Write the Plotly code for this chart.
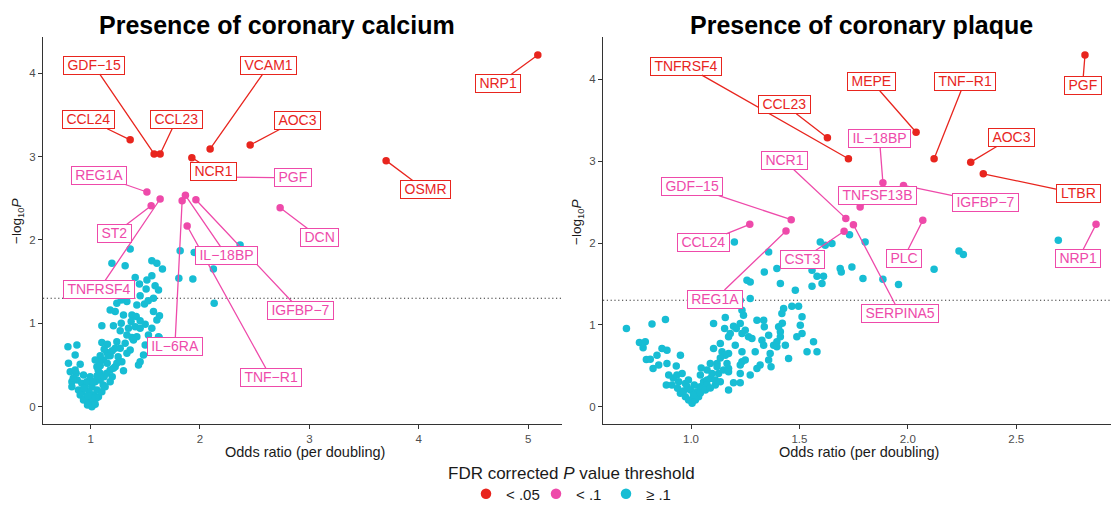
import plotly.graph_objects as go

# ---------------- data: Presence of coronary calcium ----------------
calc_genes = ["CCL24", "GDF−15", "CCL23", "NCR1", "VCAM1", "AOC3", "OSMR", "NRP1",
              "REG1A", "ST2", "TNFRSF4", "IL−6RA", "IL−18BP", "IGFBP−7", "TNF−R1", "PGF", "DCN"]
calc_or = [1.362, 1.581, 1.636, 1.926, 2.093, 2.459, 3.702, 5.089,
           1.515, 1.554, 1.636, 1.837, 1.867, 1.963, 1.883, 2.200, 2.733]
calc_logp = [3.20, 3.03, 3.03, 2.986, 3.09, 3.138, 2.95, 4.217,
             2.574, 2.41, 2.49, 2.47, 2.535, 2.482, 2.167, 2.752, 2.386]
calc_fdr = ["< .05"] * 8 + ["< .1"] * 9

calc_bg_or = [0.793, 0.875, 0.859, 0.798, 0.905, 0.814, 0.868, 0.829, 0.878, 0.935,
              0.829, 0.889, 0.923, 0.966, 0.996, 0.978, 1.027, 1.058, 1.042, 1.088,
              1.115, 1.149, 1.088, 1.179, 1.225, 1.179, 1.058, 1.118, 1.152, 0.920,
              0.951, 0.905, 0.935, 0.972, 1.012, 1.027, 1.072, 1.103, 1.133, 1.012,
              0.987, 0.966, 0.996, 1.103, 1.209, 1.271, 1.346, 1.408, 1.453, 1.560,
              1.332, 1.378, 1.423, 1.529, 1.627, 1.103, 1.154, 1.240, 1.316, 1.392,
              1.225, 1.271, 1.332, 1.149, 1.088, 1.179, 1.484, 1.453, 1.438, 1.286,
              1.240, 1.081, 1.209, 1.301, 1.362, 1.195, 1.316, 1.560, 1.606, 1.657,
              1.408, 1.447, 1.515, 1.560, 1.590, 1.508, 1.575, 1.240, 1.332, 1.423,
              1.493, 1.575, 1.179, 1.225, 1.301, 1.378, 1.417, 1.453, 1.630, 1.606,
              1.280, 1.499, 1.621, 1.353, 1.280, 1.453, 1.527, 1.252, 1.362, 1.499,
              1.371, 1.124, 1.042, 1.069, 1.124, 1.198, 1.051, 1.042, 1.015, 0.978,
              0.941, 0.859, 0.841, 1.024, 1.060, 1.088, 1.161, 1.198,
              1.819, 1.947, 2.367, 1.807, 1.935, 2.123, 2.130, 1.621]
calc_bg_logp = [0.72, 0.74, 0.62, 0.52, 0.51, 0.42, 0.40, 0.30, 0.32, 0.38,
                0.24, 0.20, 0.18, 0.12, 0.04, 0.07, 0.14, 0.20, 0.30, 0.32,
                0.26, 0.40, 0.40, 0.44, 0.48, 0.30, 0.48, 0.56, 0.52, 0.28,
                0.24, 0.14, 0.08, 0.02, 0.00, 0.08, 0.12, 0.18, 0.24, 0.24,
                0.18, 0.30, 0.36, 0.97, 0.97, 0.91, 0.94, 0.96, 0.94, 0.94,
                0.86, 0.83, 0.84, 0.86, 0.83, 0.77, 0.75, 0.78, 0.76, 0.80,
                0.70, 0.70, 0.64, 0.65, 0.61, 0.61, 0.62, 0.54, 0.50, 0.54,
                0.52, 0.54, 0.46, 0.43, 1.89, 1.72, 1.69, 1.75, 1.72, 1.65,
                1.55, 1.47, 1.52, 1.57, 1.45, 1.41, 1.30, 1.24, 1.26, 1.22,
                1.23, 1.14, 1.16, 1.14, 1.10, 1.10, 1.08, 1.03, 1.09, 1.04,
                1.00, 0.99, 1.40, 1.38, 1.28, 1.33, 1.27, 0.60, 0.68, 0.74,
                1.02, 0.69, 0.56, 0.44, 0.36, 0.36, 0.10, 0.03, 0.10, 0.13,
                0.22, 0.44, 0.34, 0.30, 0.37, 0.49, 0.61, 0.67,
                1.87, 1.85, 1.94, 1.54, 1.53, 1.65, 1.24, 0.84]

# ---------------- data: Presence of coronary plaque ----------------
plq_genes = ["TNFRSF4", "CCL23", "MEPE", "TNF−R1", "AOC3", "LTBR", "PGF",
             "GDF−15", "NCR1", "SERPINA5", "CCL24", "REG1A", "CST3", "IL−18BP",
             "IGFBP−7", "TNFSF13B", "PLC", "NRP1"]
plq_or = [1.726, 1.629, 2.038, 2.121, 2.290, 2.348, 2.817,
          1.462, 1.714, 1.749, 1.271, 1.438, 1.706, 1.885,
          1.980, 1.780, 2.069, 2.868]
plq_logp = [3.03, 3.285, 3.354, 3.03, 2.988, 2.846, 4.298,
            2.285, 2.301, 2.224, 2.228, 2.146, 2.143, 2.737,
            2.704, 2.439, 2.277, 2.228]
plq_fdr = ["< .05"] * 7 + ["< .1"] * 11

plq_bg_or = [0.702, 0.820, 0.882, 0.762, 0.789, 0.779, 0.794, 0.812, 0.843, 0.866,
             0.889, 0.825, 0.851, 0.889, 0.897, 0.886, 0.912, 0.935, 0.932, 0.951,
             0.943, 0.974, 0.938, 0.951, 0.974, 0.989, 1.005, 1.020, 1.035, 1.028,
             1.043, 1.058, 1.074, 1.089, 1.112, 1.112, 1.135, 1.127, 1.150, 1.173,
             1.166, 1.173, 1.143, 1.135, 1.173, 1.181, 1.158, 1.196, 1.209, 1.227,
             1.235, 1.250, 1.265, 1.281, 1.242, 1.235, 1.227, 1.273, 1.258, 1.273,
             1.304, 1.335, 1.338, 1.327, 1.296, 1.235, 1.235, 1.250, 1.227, 1.227,
             1.273, 1.227, 1.304, 1.319, 1.335, 1.358, 1.365, 1.358, 1.369, 1.381,
             1.396, 1.396, 1.412, 1.412, 1.404, 1.421, 1.419, 1.427, 1.465, 1.496,
             1.481, 1.450, 1.488, 1.512, 1.512, 1.535, 1.565, 1.581, 1.412, 1.396,
             1.338, 1.358, 1.200, 1.558, 1.558, 1.581, 1.604, 1.611, 1.596, 1.619,
             1.650, 1.688, 1.693, 1.742, 1.731, 1.803, 1.793, 1.885, 1.957, 2.121,
             2.236, 2.256, 2.694, 1.104, 1.155, 1.158, 1.104, 1.120, 1.173, 1.173,
             1.196, 1.074, 1.043, 1.074, 1.097, 1.120, 1.089, 0.959, 0.982, 0.997,
             1.011, 1.043, 1.066, 1.089, 0.965, 0.918, 0.988, 1.015, 1.047, 1.135,
             1.204, 1.504, 1.435]
plq_bg_logp = [0.956, 1.010, 1.066, 0.785, 0.793, 0.720, 0.578, 0.580, 0.630, 0.712,
               0.690, 0.468, 0.509, 0.529, 0.387, 0.265, 0.265, 0.387, 0.496, 0.630,
               0.305, 0.285, 0.224, 0.163, 0.122, 0.082, 0.041, 0.082, 0.122, 0.183,
               0.244, 0.305, 0.326, 0.346, 0.265, 0.326, 0.305, 0.407, 0.448, 0.468,
               0.529, 0.651, 0.671, 0.773, 0.854, 0.895, 1.090, 0.984, 0.956, 1.017,
               0.895, 0.935, 0.854, 0.834, 1.118, 1.179, 1.301, 1.322, 1.545, 1.524,
               1.057, 1.057, 0.976, 0.813, 0.671, 0.671, 0.549, 0.570, 0.509, 0.407,
               0.387, 0.293, 0.468, 0.509, 0.752, 0.874, 0.651, 0.570, 0.488, 0.752,
               0.793, 0.732, 0.854, 0.915, 0.976, 1.020, 1.139, 1.200, 1.228, 1.228,
               1.423, 0.590, 0.854, 0.895, 1.098, 0.671, 0.793, 0.671, 1.505, 1.688,
               1.646, 1.890, 2.012, 1.667, 1.472, 1.594, 1.505, 1.594, 2.012, 1.972,
               1.993, 1.688, 1.646, 1.707, 2.102, 2.012, 1.566, 1.557, 1.493, 1.679,
               1.902, 1.859, 2.033, 1.017, 0.956, 0.630, 0.712, 0.529, 0.427, 0.204,
               0.293, 0.265, 0.387, 0.448, 0.407, 0.488, 0.529, 0.407, 0.244, 0.204,
               0.143, 0.167, 0.204, 0.228, 0.191, 0.350, 0.326, 0.265, 0.472, 0.594,
               0.752, 0.996, 0.752]

legend_names = ["< .05", "< .1", "≥ .1"]

# ---------------- label placement (layout, in data units) ----------------
calc_label_pos = {
    "PGF": (2.850, 2.745), "IGFBP−7": (2.919, 1.150), "TNF−R1": (2.649, 0.350),
    "GDF−15": (1.028, 4.095), "VCAM1": (2.631, 4.095), "CCL24": (0.981, 3.44),
    "CCL23": (1.785, 3.44), "AOC3": (2.888, 3.434), "NRP1": (4.728, 3.872),
    "REG1A": (1.080, 2.772), "NCR1": (2.127, 2.816), "OSMR": (4.058, 2.602),
    "DCN": (3.092, 2.029), "ST2": (1.218, 2.074), "IL−18BP": (2.246, 1.809),
    "TNFRSF4": (1.077, 1.403), "IL−6RA": (1.771, 0.727),
}
plq_label_pos = {
    "TNFRSF4": (0.977, 4.161), "IGFBP−7": (2.359, 2.494), "CCL23": (1.432, 3.689),
    "MEPE": (1.834, 3.970), "TNF−R1": (2.262, 3.970), "AOC3": (2.479, 3.289),
    "LTBR": (2.785, 2.602), "PGF": (2.806, 3.929), "GDF−15": (1.003, 2.689),
    "NCR1": (1.429, 3.009), "SERPINA5": (1.965, 1.133), "CCL24": (1.058, 2.002),
    "REG1A": (1.111, 1.316), "CST3": (1.513, 1.799), "IL−18BP": (1.869, 3.279),
    "TNFSF13B": (1.861, 2.584), "PLC": (1.980, 1.810), "NRP1": (2.786, 1.805),
}

RED = "#E8251E"
PINK = "#EE4AAA"
CYAN = "#17BDD4"
COLORS = {"< .05": RED, "< .1": PINK, "≥ .1": CYAN}
FONT = "Liberation Sans, Arial, Helvetica, sans-serif"
W, H = 1111, 506

CHAR_W = {'A': 667, 'B': 667, 'C': 722, 'D': 722, 'E': 667, 'F': 611, 'G': 778,
          'H': 722, 'I': 278, 'K': 667, 'L': 556, 'M': 833, 'N': 722, 'O': 778,
          'P': 667, 'R': 722, 'S': 667, 'T': 611, 'V': 667, '−': 584, '-': 333}


def text_w(s, size):
    return sum(CHAR_W.get(c, 556) for c in s) / 1000 * size


def px(xp):
    return xp / W


def py(yp):
    return 1 - yp / H


fig = go.Figure()

# background (not significant) points
fig.add_trace(go.Scatter(x=calc_bg_or, y=calc_bg_logp, mode="markers", xaxis="x", yaxis="y",
                         marker=dict(color=CYAN, size=7.5), showlegend=False, hoverinfo="skip"))
fig.add_trace(go.Scatter(x=plq_bg_or, y=plq_bg_logp, mode="markers", xaxis="x2", yaxis="y2",
                         marker=dict(color=CYAN, size=7.5), showlegend=False, hoverinfo="skip"))

for cat in ["< .1", "< .05"]:
    xs = [o for o, f in zip(calc_or, calc_fdr) if f == cat]
    ys = [p for p, f in zip(calc_logp, calc_fdr) if f == cat]
    fig.add_trace(go.Scatter(x=xs, y=ys, mode="markers", xaxis="x", yaxis="y",
                             marker=dict(color=COLORS[cat], size=7.5), showlegend=False))
    xs = [o for o, f in zip(plq_or, plq_fdr) if f == cat]
    ys = [p for p, f in zip(plq_logp, plq_fdr) if f == cat]
    fig.add_trace(go.Scatter(x=xs, y=ys, mode="markers", xaxis="x2", yaxis="y2",
                             marker=dict(color=COLORS[cat], size=7.5), showlegend=False))

# legend entries
for name in legend_names:
    fig.add_trace(go.Scatter(x=[None], y=[None], mode="markers", name=name,
                             marker=dict(color=COLORS[name], size=10.5), showlegend=True))

annotations = []


def add_labels(genes, ors, logps, fdrs, pos, xref, yref):
    info = {g: (o, p, f) for g, o, p, f in zip(genes, ors, logps, fdrs)}
    for g, (lx, ly) in pos.items():
        o, p, f = info[g]
        col = COLORS[f]
        annotations.append(dict(
            x=o, y=p, ax=lx, ay=ly, xref=xref, yref=yref, axref=xref, ayref=yref,
            text=g, showarrow=True, arrowhead=0, arrowwidth=1.3, arrowcolor=col,
            standoff=0, startstandoff=0,
            font=dict(family=FONT, size=14, color=col),
            bgcolor="white", bordercolor=col, borderwidth=1, borderpad=1.5,
            width=text_w(g, 14) + 4, height=13.5))


add_labels(calc_genes, calc_or, calc_logp, calc_fdr, calc_label_pos, "x", "y")
add_labels(plq_genes, plq_or, plq_logp, plq_fdr, plq_label_pos, "x2", "y2")

# titles and axis titles
for txt, xc in [("<b>Presence of coronary calcium</b>", 277), ("<b>Presence of coronary plaque</b>", 861)]:
    annotations.append(dict(text=txt, x=px(xc), y=py(25), xref="paper", yref="paper",
                            showarrow=False, xanchor="center", yanchor="middle",
                            font=dict(family=FONT, size=25, color="black")))
for xc in [305, 859]:
    annotations.append(dict(text="Odds ratio (per doubling)", x=px(xc), y=py(452), xref="paper",
                            yref="paper", showarrow=False, xanchor="center", yanchor="middle",
                            font=dict(family=FONT, size=14.5, color="#1a1a1a")))
for xc in [17, 577]:
    annotations.append(dict(text="−log<sub>10</sub><i>P</i>", x=px(xc), y=py(222), xref="paper",
                            yref="paper", showarrow=False, textangle=-90, xanchor="center",
                            yanchor="middle", font=dict(family=FONT, size=13.5, color="#1a1a1a")))
annotations.append(dict(text="FDR corrected <i>P</i> value threshold", x=px(571), y=py(473),
                        xref="paper", yref="paper", showarrow=False, xanchor="center",
                        yanchor="middle", font=dict(family=FONT, size=17, color="#1a1a1a")))

shapes = []
for xr, yr in [("x domain", "y"), ("x2 domain", "y2")]:
    shapes.append(dict(type="line", xref=xr, yref=yr, x0=0, x1=1, y0=1.3, y1=1.3,
                       line=dict(color="#333333", width=1.1, dash="1.2px,2.6px"), layer="below"))

axis_common = dict(showline=True, linecolor="#333333", linewidth=1.2, ticks="outside",
                   ticklen=4, tickcolor="#333333", tickwidth=1.1, showgrid=False, zeroline=False,
                   tickfont=dict(family=FONT, size=11.5, color="#4D4D4D"))

ydom = [py(424.3), py(37.2)]
fig.update_layout(
    width=W, height=H,
    margin=dict(l=0, r=0, t=0, b=0, pad=0, autoexpand=False),
    paper_bgcolor="white", plot_bgcolor="white",
    font=dict(family=FONT),
    xaxis=dict(domain=[px(43), px(562)], range=[0.565, 5.31], tickvals=[1, 2, 3, 4, 5],
               anchor="y", **axis_common),
    yaxis=dict(domain=ydom, range=[-0.211, 4.43], tickvals=[0, 1, 2, 3, 4], anchor="x",
               **axis_common),
    xaxis2=dict(domain=[px(603), 1.0], range=[0.594, 2.937], tickvals=[1.0, 1.5, 2.0, 2.5],
                ticktext=["1.0", "1.5", "2.0", "2.5"], anchor="y2", **axis_common),
    yaxis2=dict(domain=ydom, range=[-0.215, 4.515], tickvals=[0, 1, 2, 3, 4], anchor="x2",
                **axis_common),
    legend=dict(orientation="h", x=px(571), xanchor="center", y=py(494), yanchor="middle",
                font=dict(family=FONT, size=15, color="#1a1a1a"), entrywidth=25,
                bgcolor="rgba(0,0,0,0)", traceorder="normal"),
    annotations=annotations,
    shapes=shapes,
)

fig.write_html("out.html")
